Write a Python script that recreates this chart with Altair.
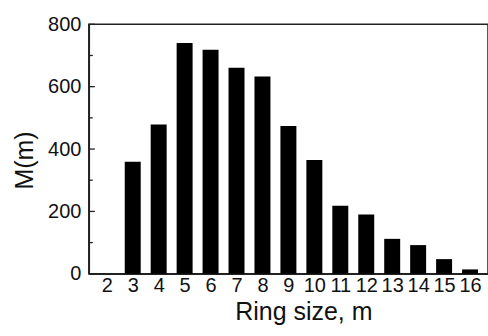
import altair as alt
import pandas as pd

ring_size = [2, 3, 4, 5, 6, 7, 8, 9, 10, 11, 12, 13, 14, 15, 16]
counts = [0, 359, 479, 740, 718, 661, 633, 474, 365, 218, 190, 112, 92, 47, 14]
major_ticks = [0, 200, 400, 600, 800]
minor_ticks = [100, 300, 500, 700]

df = pd.DataFrame({"m": ring_size, "M": counts})
df_major = pd.DataFrame({"v": major_ticks})
df_minor = pd.DataFrame({"v": minor_ticks})

FONT = "Liberation Sans"

x_scale = alt.Scale(domain=[1.5, 16.5], nice=False, zero=False)
y_scale = alt.Scale(domain=[0, 800], nice=False)

bars = alt.Chart(df).mark_bar(size=16, color="black").encode(
    x=alt.X("m:Q", scale=x_scale,
            axis=alt.Axis(values=ring_size, title="Ring size, m", grid=False, ticks=False,
                          labelFontSize=20, labelPadding=2, labelFont=FONT, labelColor="#111",
                          titleFont=FONT, titleFontSize=25, titleFontWeight="normal", titleColor="#111",
                          titleX=215, titleY=46, titleBaseline="alphabetic", titleAlign="center",
                          domainColor="#222", domainWidth=1.5, labelFlush=False, labelOverlap=False)),
    y=alt.Y("M:Q", scale=y_scale,
            axis=alt.Axis(values=major_ticks, title="M(m)", grid=False, ticks=False,
                          labelFontSize=20, labelPadding=8, labelFont=FONT, labelColor="#111",
                          titleFont=FONT, titleFontSize=25, titleFontWeight="normal", titleColor="#111",
                          titleX=-64, titleY=136, titleBaseline="middle", titleAngle=270,
                          domainColor="#222", domainWidth=1.5)),
)

major = alt.Chart(df_major).mark_rule(color="#222", strokeWidth=1.3).encode(
    y=alt.Y("v:Q", scale=y_scale), x=alt.value(0), x2=alt.value(6)
)
minor = alt.Chart(df_minor).mark_rule(color="#222", strokeWidth=1.3).encode(
    y=alt.Y("v:Q", scale=y_scale), x=alt.value(0), x2=alt.value(4)
)

chart = alt.layer(bars, major, minor).properties(
    width=400, height=250,
    autosize=alt.AutoSizeParams(type="none"),
    padding={"left": 89, "top": 24, "right": 0, "bottom": 62},
    background="white",
).configure_view(stroke="#222", strokeWidth=1.5)

chart.save("out.html", embed_options={"renderer": "svg", "actions": False})
